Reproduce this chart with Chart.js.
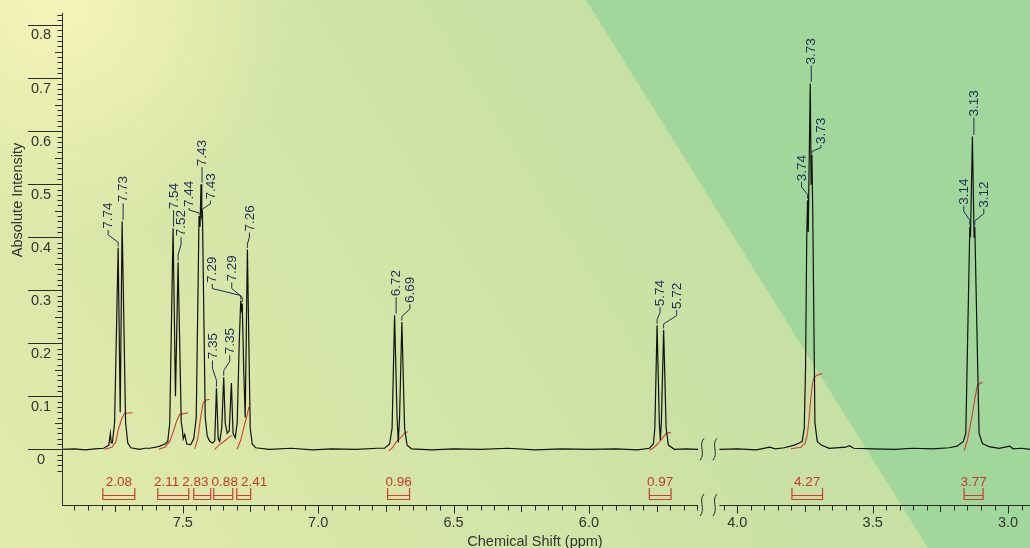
<!DOCTYPE html>
<html>
<head>
<meta charset="utf-8">
<script src="https://cdn.jsdelivr.net/npm/chart.js@4"></script>
<style>
  html, body { margin: 0; padding: 0; background: #c8e2a3; }
  canvas { display: block; }
</style>
</head>
<body>
<canvas id="nmrChart" width="1030" height="548"></canvas>
<script>
// shift axis is broken between breakFrom and breakTo (ppm)
const shiftLeftMax = 7.946;
const breakFrom = 5.597;
const breakTo = 4.066;
const shiftRightMin = 2.919;
const intensityMin = -0.105;
const intensityMax = 0.823;

const xTickLabels = ['7.5', '7.0', '6.5', '6.0', '4.0', '3.5', '3.0'];
const yTickLabels = ['0', '0.1', '0.2', '0.3', '0.4', '0.5', '0.6', '0.7', '0.8'];

// spectrum, [ppm, intensity], left part of the axis
const spectrumAromatic = [
  [7.946, 0.000], [7.900, 0.001], [7.860, -0.001], [7.825, 0.001], [7.792, 0.002],
  [7.773, 0.008], [7.7675, 0.030], [7.7640, 0.012], [7.7601, 0.012], [7.7517, 0.050],
  [7.7387, 0.380], [7.7310, 0.070], [7.7240, 0.430], [7.7111, 0.050], [7.7030, 0.012],
  [7.6919, 0.003], [7.660, 0.000], [7.640, 0.002], [7.622, 0.002], [7.600, 0.004],
  [7.585, 0.006], [7.566, 0.010], [7.5554, 0.015], [7.5480, 0.050], [7.5358, 0.417],
  [7.5269, 0.100], [7.5173, 0.353], [7.5055, 0.050], [7.5020, 0.040], [7.4982, 0.020],
  [7.4926, 0.028], [7.4852, 0.010], [7.4705, 0.009], [7.4594, 0.020], [7.4502, 0.060],
  [7.4399, 0.440], [7.4362, 0.420], [7.4325, 0.500], [7.4299, 0.440], [7.4273, 0.445],
  [7.4170, 0.060], [7.4096, 0.025], [7.4004, 0.015], [7.3893, 0.012], [7.3819, 0.016],
  [7.3756, 0.115], [7.3690, 0.020], [7.3635, 0.015], [7.3561, 0.040], [7.3487, 0.136],
  [7.3432, 0.050], [7.3358, 0.030], [7.3284, 0.035], [7.3203, 0.125], [7.3144, 0.030],
  [7.3063, 0.022], [7.2989, 0.050], [7.2915, 0.200], [7.2860, 0.280], [7.2834, 0.265],
  [7.2804, 0.275], [7.2749, 0.150], [7.2694, 0.060], [7.2613, 0.377], [7.2509, 0.040],
  [7.2435, 0.010], [7.2306, 0.003], [7.180, 0.000], [7.100, 0.002], [7.020, -0.001],
  [6.950, 0.001], [6.860, 0.000], [6.780, 0.002], [6.7546, 0.002], [6.7362, 0.010],
  [6.7269, 0.040], [6.7177, 0.253], [6.7085, 0.060], [6.7041, 0.013], [6.6993, 0.060],
  [6.6908, 0.240], [6.6808, 0.040], [6.6716, 0.008], [6.6550, 0.001], [6.580, -0.001],
  [6.500, 0.001], [6.400, 0.000], [6.300, 0.002], [6.200, -0.001], [6.100, 0.001],
  [6.000, 0.000], [5.900, 0.001], [5.820, -0.001], [5.7768, 0.002], [5.7620, 0.010],
  [5.7565, 0.040], [5.7483, 0.234], [5.7399, 0.050], [5.7362, 0.017], [5.7325, 0.050],
  [5.7240, 0.225], [5.7148, 0.040], [5.7066, 0.008], [5.6845, 0.000], [5.640, 0.001],
  [5.597, 0.000]
];

// right part of the axis
const spectrumAliphatic = [
  [4.066, 0.000], [4.000, 0.001], [3.930, -0.001], [3.880, 0.004], [3.860, 0.001],
  [3.8266, 0.003], [3.7897, 0.008], [3.7712, 0.012], [3.7601, 0.015], [3.7528, 0.040],
  [3.7480, 0.150], [3.7435, 0.400], [3.7405, 0.470], [3.7380, 0.410], [3.7306, 0.690],
  [3.7273, 0.500], [3.7244, 0.555], [3.7214, 0.450], [3.7133, 0.050], [3.7048, 0.015],
  [3.6900, 0.008], [3.6605, 0.002], [3.600, 0.004], [3.587, 0.007], [3.570, 0.002],
  [3.500, 0.001], [3.420, 0.000], [3.350, 0.002], [3.280, 0.001], [3.2177, 0.003],
  [3.1882, 0.006], [3.1734, 0.012], [3.1661, 0.014], [3.1561, 0.030], [3.1413, 0.420],
  [3.1387, 0.400], [3.1317, 0.590], [3.1255, 0.400], [3.1229, 0.420], [3.1070, 0.030],
  [3.0948, 0.011], [3.0701, 0.005], [3.0332, 0.002], [2.9937, 0.006], [2.9815, 0.001],
  [2.950, 0.002], [2.919, 0.000]
];

// picked peaks
const peakLabels = ['7.74', '7.73', '7.54', '7.52', '7.44', '7.43', '7.43', '7.35', '7.35', '7.29', '7.29',
  '7.26', '6.72', '6.69', '5.74', '5.72', '3.74', '3.73', '3.73', '3.14', '3.13', '3.12'];
const peakShift = [7.7387, 7.7240, 7.5358, 7.5173, 7.4399, 7.4325, 7.4273, 7.3756, 7.3487, 7.2860, 7.2804,
  7.2613, 6.7177, 6.6908, 5.7483, 5.7240, 3.7405, 3.7306, 3.7244, 3.1413, 3.1317, 3.1229];
const peakHeight = [0.380, 0.430, 0.417, 0.353, 0.440, 0.500, 0.445, 0.115, 0.136, 0.280, 0.275,
  0.377, 0.253, 0.240, 0.234, 0.225, 0.470, 0.690, 0.555, 0.420, 0.590, 0.420];

// integrals
const integralValues = ['2.08', '2.11', '2.83', '0.88', '2.41', '0.96', '0.97', '4.27', '3.77'];
const integralFrom = [7.7952, 7.5923, 7.4594, 7.3856, 7.3007, 6.7435, 5.7768, 3.7982, 3.1624];
const integralTo = [7.6771, 7.4779, 7.3967, 7.3155, 7.2491, 6.6624, 5.6967, 3.6852, 3.0923];
const integralCurves = [
  [[7.7878, 0.000], [7.7620, 0.004], [7.7472, 0.014], [7.7387, 0.036], [7.7251, 0.058], [7.7140, 0.068], [7.6845, 0.069]],
  [[7.5886, 0.000], [7.5664, 0.004], [7.5480, 0.015], [7.5332, 0.036], [7.5221, 0.054], [7.5111, 0.066], [7.4804, 0.069]],
  [[7.4557, 0.001], [7.4446, 0.020], [7.4354, 0.055], [7.4251, 0.087], [7.4151, 0.093], [7.4004, 0.094]],
  [[7.3819, 0.000], [7.3672, 0.008], [7.3524, 0.013], [7.3376, 0.019], [7.3266, 0.024], [7.3181, 0.026]],
  [[7.2996, 0.000], [7.2860, 0.017], [7.2749, 0.040], [7.2638, 0.062], [7.2554, 0.080]],
  [[6.7391, -0.003], [6.7255, 0.003], [6.7118, 0.014], [6.6933, 0.023], [6.6808, 0.031], [6.6686, 0.033]],
  [[5.7768, -0.002], [5.7583, 0.004], [5.7399, 0.014], [5.7269, 0.022], [5.7151, 0.030], [5.6967, 0.032]],
  [[3.8018, 0.001], [3.7649, 0.004], [3.7490, 0.012], [3.7406, 0.030], [3.7343, 0.062], [3.7280, 0.099],
   [3.7221, 0.125], [3.7159, 0.136], [3.7048, 0.140], [3.6852, 0.143]],
  [[3.1624, -0.002], [3.1502, 0.017], [3.1317, 0.067], [3.1192, 0.105], [3.1133, 0.121], [3.0948, 0.127]]
];

// layout of the peak labels: sideways nudge and leader length, px
const labelDx = [-10, 1, 0.5, 3, -10, 1, 8, -4, 6, -28.5, -10.5, 2, 1.5, 8, 3, 13, -6, 1, 9, -6, 1.5, 9];
const labelRise = [18, 18, 18, 25, 8, 17, 13, 28, 22, 17, 21, 17, 18, 18, 18, 20, 18, 18, 10, 21, 19, 18];

const breakGap = 0.079;
const FONT = '"Liberation Sans", Arial, sans-serif';

function toAxis(ppm) {
  return ppm > 5 ? ppm : ppm + breakFrom - breakTo - breakGap;
}
function asPoints(list) {
  return list.map(p => ({ x: toAxis(p[0]), y: p[1] }));
}

const background = {
  id: 'background',
  beforeDraw(chart) {
    const ctx = chart.ctx, w = chart.width, h = chart.height;
    ctx.save();
    const g = ctx.createLinearGradient(0, h, 700, 120);
    g.addColorStop(0, '#e2ebab');
    g.addColorStop(1, '#c5e0a3');
    ctx.fillStyle = g;
    ctx.fillRect(0, 0, w, h);
    const r = ctx.createRadialGradient(60, 0, 0, 60, 0, 240);
    r.addColorStop(0, 'rgba(246,245,186,1)');
    r.addColorStop(0.5, 'rgba(240,242,178,0.65)');
    r.addColorStop(1, 'rgba(236,240,176,0)');
    ctx.fillStyle = r;
    ctx.fillRect(0, 0, w, h);
    ctx.beginPath();
    ctx.moveTo(586, 0);
    ctx.lineTo(w, 0);
    ctx.lineTo(w, h);
    ctx.lineTo(928, h);
    ctx.closePath();
    ctx.fillStyle = '#a2d79c';
    ctx.fill();
    ctx.restore();
  }
};

function breakMark(ctx, x, y) {
  ctx.beginPath();
  ctx.moveTo(x + 2, y - 11);
  ctx.bezierCurveTo(x - 4, y - 5, x + 4, y + 4, x - 2, y + 11);
  ctx.stroke();
}

const annotations = {
  id: 'annotations',
  afterDatasetsDraw(chart) {
    const ctx = chart.ctx, xs = chart.scales.x, ys = chart.scales.y, area = chart.chartArea;
    const px = ppm => xs.getPixelForValue(toAxis(ppm));
    const gx1 = px(breakFrom), gx2 = px(breakTo);
    ctx.save();

    // y axis
    ctx.strokeStyle = '#2a2a2a';
    ctx.lineWidth = 1;
    ctx.beginPath();
    ctx.moveTo(area.left + 0.5, area.top);
    ctx.lineTo(area.left + 0.5, area.bottom);
    for (let i = -4; i <= 82; i++) {
      const y = Math.round(ys.getPixelForValue(i / 100)) + 0.5;
      const len = i % 10 === 0 ? 34 : (i % 5 === 0 ? 7 : 4.5);
      ctx.moveTo(area.left, y);
      ctx.lineTo(area.left - len, y);
    }
    ctx.stroke();
    ctx.fillStyle = '#333';
    ctx.font = '14.5px ' + FONT;
    ctx.textAlign = 'center';
    ctx.textBaseline = 'alphabetic';
    yTickLabels.forEach(t => {
      ctx.fillText(t, 41, ys.getPixelForValue(parseFloat(t)) + 14.3);
    });
    ctx.save();
    ctx.translate(22, 200);
    ctx.rotate(-Math.PI / 2);
    ctx.textBaseline = 'alphabetic';
    ctx.fillText('Absolute Intensity', 0, 0);
    ctx.restore();

    // x axis, two pieces
    const yb = Math.round(area.bottom) + 0.5;
    ctx.beginPath();
    ctx.moveTo(area.left, yb);
    ctx.lineTo(gx1, yb);
    ctx.moveTo(gx2, yb);
    ctx.lineTo(area.right, yb);
    const tick = k => {
      const x = Math.round(px(k / 100)) + 0.5;
      const len = k % 50 === 0 ? 8 : (k % 25 === 0 ? 6.5 : 5);
      ctx.moveTo(x, yb);
      ctx.lineTo(x, yb + len);
    };
    for (let k = 790; k >= 560; k -= 5) tick(k);
    for (let k = 405; k >= 295; k -= 5) tick(k);
    ctx.stroke();
    xTickLabels.forEach(t => {
      ctx.fillText(t, px(parseFloat(t)), 527.3);
    });
    ctx.fillText('Chemical Shift (ppm)', 535, 545.5);

    // break marks on the baseline and on the axis
    const y0 = ys.getPixelForValue(0);
    [gx1 + 4, gx2 - 4.5].forEach(x => {
      breakMark(ctx, x, y0);
      breakMark(ctx, x, area.bottom);
    });

    // integral brackets and values
    ctx.strokeStyle = '#cf3b2e';
    ctx.fillStyle = '#c9372c';
    ctx.lineWidth = 1.2;
    ctx.font = '13.5px ' + FONT;
    const items = integralValues.map((t, i) => {
      const x1 = px(integralFrom[i]), x2 = px(integralTo[i]);
      ctx.beginPath();
      ctx.moveTo(x1, 488); ctx.lineTo(x1, 500);
      ctx.moveTo(x2, 488); ctx.lineTo(x2, 500);
      ctx.moveTo(x1, 495.5); ctx.lineTo(x2, 495.5);
      ctx.moveTo(x1, 499.5); ctx.lineTo(x2, 499.5);
      ctx.stroke();
      return { t, c: (x1 + x2) / 2, w: ctx.measureText(t).width + 3 };
    });
    // spread crowded values apart
    let clusters = items.map(it => ({ members: [it], width: it.w, center: it.c }));
    let merged = true;
    while (merged) {
      merged = false;
      for (let j = 0; j < clusters.length - 1; j++) {
        const a = clusters[j], b = clusters[j + 1];
        if (a.center + a.width / 2 > b.center - b.width / 2) {
          const members = a.members.concat(b.members);
          const center = members.reduce((s, m) => s + m.c, 0) / members.length;
          clusters.splice(j, 2, { members, width: a.width + b.width, center });
          merged = true;
          break;
        }
      }
    }
    ctx.textAlign = 'center';
    clusters.forEach(cl => {
      let x = cl.center - cl.width / 2;
      cl.members.forEach(m => {
        ctx.fillText(m.t, x + m.w / 2, 486);
        x += m.w;
      });
    });

    // peak labels
    ctx.strokeStyle = '#1f2c56';
    ctx.fillStyle = '#1f2c56';
    ctx.lineWidth = 1;
    ctx.font = '13.5px ' + FONT;
    peakLabels.forEach((t, i) => {
      const x = px(peakShift[i]);
      const top = ys.getPixelForValue(peakHeight[i]) - 1.5;
      const lx = x + labelDx[i];
      const ly = top - labelRise[i] + 1.5;
      const span = top - ly;
      ctx.beginPath();
      if (Math.abs(labelDx[i]) < 2) {
        ctx.moveTo(lx, top);
        ctx.lineTo(lx, ly);
      } else {
        ctx.moveTo(x, top);
        ctx.lineTo(x, top - span * 0.25);
        ctx.lineTo(lx, top - span * 0.7);
        ctx.lineTo(lx, ly);
      }
      ctx.stroke();
      ctx.save();
      ctx.translate(lx, ly - 1);
      ctx.rotate(-Math.PI / 2);
      ctx.textAlign = 'left';
      ctx.textBaseline = 'middle';
      ctx.fillText(t, 0, 0.5);
      ctx.restore();
    });

    ctx.restore();
  }
};

const lineStyle = { pointRadius: 0, tension: 0, fill: false };

new Chart(document.getElementById('nmrChart').getContext('2d'), {
  type: 'line',
  data: {
    datasets: [
      Object.assign({ data: asPoints(spectrumAromatic), borderColor: '#111', borderWidth: 1.2 }, lineStyle),
      Object.assign({ data: asPoints(spectrumAliphatic), borderColor: '#111', borderWidth: 1.2 }, lineStyle)
    ].concat(integralCurves.map(c =>
      Object.assign({ data: asPoints(c), borderColor: '#d2402e', borderWidth: 1.1 }, lineStyle)))
  },
  options: {
    responsive: false,
    animation: false,
    events: [],
    layout: { padding: { left: 62, top: 13, right: 0, bottom: 43 } },
    scales: {
      x: { type: 'linear', reverse: true, min: toAxis(shiftRightMin), max: shiftLeftMax, display: false },
      y: { type: 'linear', min: intensityMin, max: intensityMax, display: false }
    },
    plugins: { legend: { display: false }, tooltip: { enabled: false } }
  },
  plugins: [background, annotations]
});
</script>
</body>
</html>
